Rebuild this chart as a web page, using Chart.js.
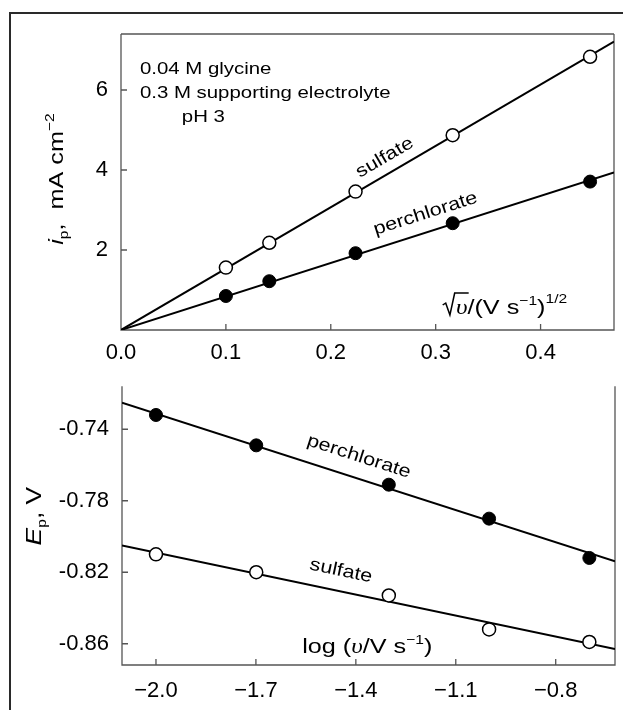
<!DOCTYPE html>
<html lang="en">
<head>
    <meta charset="UTF-8">
    <script src="https://cdn.jsdelivr.net/npm/chart.js"></script>
    <title>Glycine: peak current and peak potential</title>
    <style>
        body {
            margin: 0;
            background: #ffffff;
            font-family: 'Liberation Sans', Arial, sans-serif;
        }
        .frame {
            position: absolute;
            left: 9px;
            top: 12px;
            width: 640px;
            height: 720px;
            border: 2px solid #2a2a2a;
            box-sizing: border-box;
        }
        .box {
            position: absolute;
            left: 0;
            width: 623px;
        }
        #topBox { top: 0; height: 380px; }
        #botBox { top: 360px; height: 350px; }
    </style>
</head>
<body>
    <div class="frame"></div>
    <div class="box" id="topBox"><canvas id="ipChart"></canvas></div>
    <div class="box" id="botBox"><canvas id="epChart"></canvas></div>

    <script>
        // upper panel: peak current vs sqrt(scan rate)
        const sqrtV = [0.1, 0.1414, 0.2236, 0.3162, 0.4472];
        const ipSulfate = [1.56, 2.18, 3.46, 4.87, 6.83];
        const ipPerchlorate = [0.85, 1.22, 1.92, 2.67, 3.71];
        const ipFitX = [0, 0.47];
        const ipFitSulfate = [0, 7.21];
        const ipFitPerchlorate = [0, 3.94];
        const ipXTicks = [0, 0.1, 0.2, 0.3, 0.4];
        const ipYTicks = [2, 4, 6];

        // lower panel: peak potential vs log(scan rate)
        const logV = [-2.0, -1.699, -1.301, -1.0, -0.699];
        const epPerchlorate = [-0.732, -0.749, -0.771, -0.790, -0.812];
        const epSulfate = [-0.810, -0.820, -0.833, -0.852, -0.859];
        const epFitX = [-2.102, -0.622];
        const epFitPerchlorate = [-0.7251, -0.8139];
        const epFitSulfate = [-0.805, -0.863];
        const epXTicks = [-2.0, -1.7, -1.4, -1.1, -0.8];
        const epYTicks = [-0.74, -0.78, -0.82, -0.86];

        const FONT = "'Liberation Sans', Arial, sans-serif";
        const SERIF = "'Liberation Serif', 'Times New Roman', serif";

        function pts(xs, ys) {
            return xs.map((x, i) => ({ x: x, y: ys[i] }));
        }

        // draws a run of text pieces (sub/superscripts, radical sign), stretched a bit like the original
        function richText(ctx, parts, x, y, angle, align) {
            ctx.save();
            ctx.translate(x, y);
            ctx.rotate(angle);
            ctx.scale(1.2, 1);
            let total = 0;
            parts.forEach(p => {
                if (p.rad) {
                    p.w = 11;
                } else {
                    ctx.font = p.font;
                    p.w = ctx.measureText(p.t).width;
                }
                total += p.w;
            });
            let cx = align === 'center' ? -total / 2 : 0;
            const cy = align === 'center' ? 6 : 0;
            ctx.fillStyle = '#000';
            ctx.strokeStyle = '#000';
            ctx.lineWidth = 1.3;
            ctx.textBaseline = 'alphabetic';
            ctx.textAlign = 'left';
            parts.forEach((p, i) => {
                if (p.rad) {
                    const nw = parts[i + 1].w;
                    ctx.beginPath();
                    ctx.moveTo(cx, cy - 9);
                    ctx.lineTo(cx + 2.5, cy - 11);
                    ctx.lineTo(cx + 6, cy + 1);
                    ctx.lineTo(cx + 10, cy - 21);
                    ctx.lineTo(cx + 12 + nw, cy - 21);
                    ctx.stroke();
                } else {
                    ctx.font = p.font;
                    ctx.fillText(p.t, cx, cy + (p.dy || 0));
                }
                cx += p.w;
            });
            ctx.restore();
        }

        function lineAngle(chart, xs, ys) {
            const { x, y } = chart.scales;
            return Math.atan2(y.getPixelForValue(ys[1]) - y.getPixelForValue(ys[0]),
                              x.getPixelForValue(xs[1]) - x.getPixelForValue(xs[0]));
        }

        function axesPlugin(boxTop) {
            return {
                id: 'axes',
                beforeDatasetsDraw(chart) {
                    const { ctx, chartArea: a, scales: { x, y } } = chart;
                    ctx.save();
                    ctx.strokeStyle = '#555';
                    ctx.lineWidth = 1.3;
                    ctx.beginPath();
                    if (boxTop) {
                        ctx.moveTo(a.left, a.top);
                        ctx.lineTo(a.right, a.top);
                    }
                    ctx.moveTo(a.left, a.top);
                    ctx.lineTo(a.left, a.bottom);
                    ctx.lineTo(a.right, a.bottom);
                    ctx.lineTo(a.right, a.top);
                    x.ticks.forEach(t => {
                        const px = x.getPixelForValue(t.value);
                        ctx.moveTo(px, a.bottom);
                        ctx.lineTo(px, a.bottom - 6);
                    });
                    y.ticks.forEach(t => {
                        const py = y.getPixelForValue(t.value);
                        ctx.moveTo(a.left, py);
                        ctx.lineTo(a.left + 6, py);
                    });
                    ctx.stroke();
                    ctx.restore();
                }
            };
        }

        const ipLabels = {
            id: 'ipLabels',
            afterDraw(chart) {
                const { ctx, chartArea: a, scales: { x, y } } = chart;
                const f17 = '17px ' + FONT;
                richText(ctx, [{ t: '0.04 M glycine', font: f17 }], x.getPixelForValue(0.018), y.getPixelForValue(6.40), 0, 'left');
                richText(ctx, [{ t: '0.3 M supporting electrolyte', font: f17 }], x.getPixelForValue(0.018), y.getPixelForValue(5.80), 0, 'left');
                richText(ctx, [{ t: 'pH 3', font: f17 }], x.getPixelForValue(0.058), y.getPixelForValue(5.20), 0, 'left');

                richText(ctx, [{ t: 'sulfate', font: '18px ' + FONT }],
                    x.getPixelForValue(0.251), y.getPixelForValue(4.33), lineAngle(chart, ipFitX, ipFitSulfate), 'center');
                richText(ctx, [{ t: 'perchlorate', font: '18px ' + FONT }],
                    x.getPixelForValue(0.29), y.getPixelForValue(2.93), lineAngle(chart, ipFitX, ipFitPerchlorate), 'center');

                richText(ctx, [
                    { rad: true },
                    { t: 'υ', font: 'italic 21px ' + SERIF },
                    { t: '/(V s', font: '21px ' + FONT },
                    { t: '−1', font: '13px ' + FONT, dy: -9 },
                    { t: ')', font: '21px ' + FONT },
                    { t: '1/2', font: '13px ' + FONT, dy: -11 }
                ], x.getPixelForValue(0.3067), y.getPixelForValue(0.40), 0, 'left');

                // y axis title
                richText(ctx, [
                    { t: 'i', font: 'italic 21px ' + FONT },
                    { t: 'p', font: '13px ' + FONT, dy: 5 },
                    { t: ',  mA cm', font: '21px ' + FONT },
                    { t: '−2', font: '13px ' + FONT, dy: -9 }
                ], 57, (a.top + a.bottom) / 2 + 3 - 6, -Math.PI / 2, 'center');
            }
        };

        const epLabels = {
            id: 'epLabels',
            afterDraw(chart) {
                const { ctx, chartArea: a, scales: { x, y } } = chart;
                richText(ctx, [{ t: 'perchlorate', font: '18px ' + FONT }],
                    x.getPixelForValue(-1.39), y.getPixelForValue(-0.7548), lineAngle(chart, epFitX, epFitPerchlorate), 'center');
                richText(ctx, [{ t: 'sulfate', font: '18px ' + FONT }],
                    x.getPixelForValue(-1.444), y.getPixelForValue(-0.8187), lineAngle(chart, epFitX, epFitSulfate), 'center');

                richText(ctx, [
                    { t: 'log (', font: '21px ' + FONT },
                    { t: 'υ', font: 'italic 21px ' + SERIF },
                    { t: '/V s', font: '21px ' + FONT },
                    { t: '−1', font: '13px ' + FONT, dy: -9 },
                    { t: ')', font: '21px ' + FONT }
                ], x.getPixelForValue(-1.561), y.getPixelForValue(-0.865), 0, 'left');

                richText(ctx, [
                    { t: 'E', font: 'italic 22px ' + FONT },
                    { t: 'p', font: '13px ' + FONT, dy: 5 },
                    { t: ', V', font: '22px ' + FONT }
                ], 35, (a.top + a.bottom) / 2 - 3.5 - 6, -Math.PI / 2, 'center');
            }
        };

        const tickFont = { family: FONT, size: 22 };

        new Chart(document.getElementById('ipChart'), {
            type: 'scatter',
            data: {
                datasets: [
                    {
                        data: pts(sqrtV, ipSulfate),
                        pointRadius: 6.5,
                        pointBackgroundColor: '#ffffff',
                        pointBorderColor: '#000000',
                        pointBorderWidth: 1.5
                    },
                    {
                        data: pts(sqrtV, ipPerchlorate),
                        pointRadius: 6.5,
                        pointBackgroundColor: '#000000',
                        pointBorderColor: '#000000',
                        pointBorderWidth: 1
                    },
                    {
                        data: pts(ipFitX, ipFitSulfate),
                        showLine: true,
                        pointRadius: 0,
                        borderColor: '#000000',
                        borderWidth: 2
                    },
                    {
                        data: pts(ipFitX, ipFitPerchlorate),
                        showLine: true,
                        pointRadius: 0,
                        borderColor: '#000000',
                        borderWidth: 2
                    }
                ]
            },
            options: {
                responsive: true,
                maintainAspectRatio: false,
                animation: false,
                events: [],
                layout: { padding: { left: 0, top: 34, right: 9, bottom: 0 } },
                plugins: { legend: { display: false }, tooltip: { enabled: false } },
                scales: {
                    x: {
                        type: 'linear',
                        min: 0,
                        max: 0.47,
                        afterBuildTicks: s => { s.ticks = ipXTicks.map(v => ({ value: v })); },
                        afterFit: s => { s.height = 50; },
                        grid: { display: false, drawTicks: false },
                        border: { display: false },
                        ticks: {
                            color: '#000', font: tickFont, padding: 10, maxRotation: 0, autoSkip: false,
                            callback: v => v.toFixed(1)
                        }
                    },
                    y: {
                        type: 'linear',
                        min: 0,
                        max: 7.4,
                        afterBuildTicks: s => { s.ticks = ipYTicks.map(v => ({ value: v })); },
                        afterFit: s => { s.width = 121; },
                        grid: { display: false, drawTicks: false },
                        border: { display: false },
                        ticks: {
                            color: '#000', font: tickFont, padding: 13, autoSkip: false,
                            callback: v => String(v)
                        }
                    }
                }
            },
            plugins: [axesPlugin(true), ipLabels]
        });

        new Chart(document.getElementById('epChart'), {
            type: 'scatter',
            data: {
                datasets: [
                    {
                        data: pts(logV, epPerchlorate),
                        pointRadius: 6.5,
                        pointBackgroundColor: '#000000',
                        pointBorderColor: '#000000',
                        pointBorderWidth: 1
                    },
                    {
                        data: pts(logV, epSulfate),
                        pointRadius: 6.5,
                        pointBackgroundColor: '#ffffff',
                        pointBorderColor: '#000000',
                        pointBorderWidth: 1.5
                    },
                    {
                        data: pts(epFitX, epFitPerchlorate),
                        showLine: true,
                        pointRadius: 0,
                        borderColor: '#000000',
                        borderWidth: 2
                    },
                    {
                        data: pts(epFitX, epFitSulfate),
                        showLine: true,
                        pointRadius: 0,
                        borderColor: '#000000',
                        borderWidth: 2
                    }
                ]
            },
            options: {
                responsive: true,
                maintainAspectRatio: false,
                animation: false,
                events: [],
                layout: { padding: { left: 0, top: 12, right: 8, bottom: 0 } },
                plugins: { legend: { display: false }, tooltip: { enabled: false } },
                scales: {
                    x: {
                        type: 'linear',
                        min: -2.102,
                        max: -0.622,
                        afterBuildTicks: s => { s.ticks = epXTicks.map(v => ({ value: v })); },
                        afterFit: s => { s.height = 45; },
                        grid: { display: false, drawTicks: false },
                        border: { display: false },
                        ticks: {
                            color: '#000', font: tickFont, padding: 13, maxRotation: 0, autoSkip: false,
                            callback: v => v.toFixed(1).replace('-', '−')
                        }
                    },
                    y: {
                        type: 'linear',
                        min: -0.8719,
                        max: -0.7159,
                        afterBuildTicks: s => { s.ticks = epYTicks.map(v => ({ value: v })); },
                        afterFit: s => { s.width = 122; },
                        grid: { display: false, drawTicks: false },
                        border: { display: false },
                        ticks: {
                            color: '#000', font: tickFont, padding: 13, autoSkip: false,
                            callback: v => v.toFixed(2)
                        }
                    }
                }
            },
            plugins: [axesPlugin(false), epLabels]
        });
    </script>
</body>
</html>
